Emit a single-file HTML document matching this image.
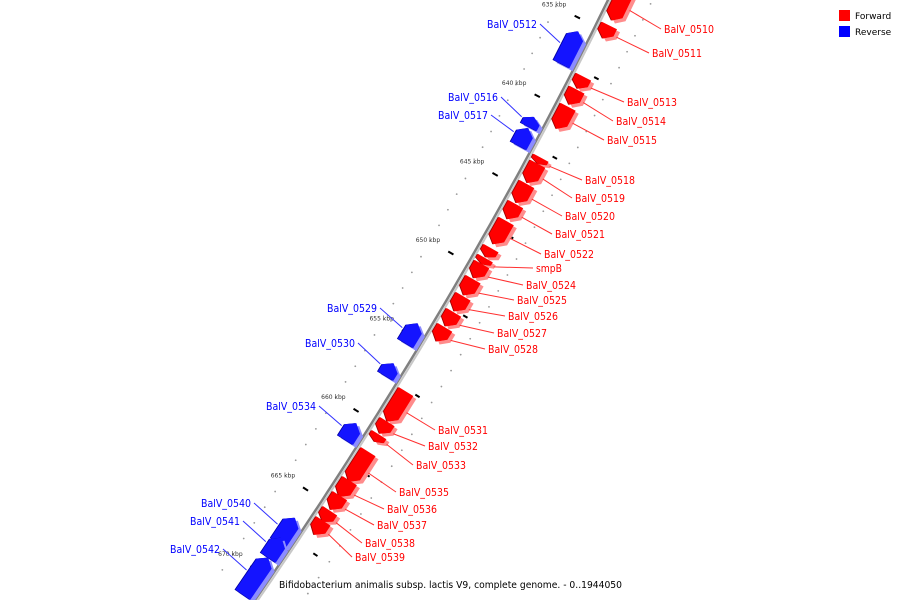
<!DOCTYPE html>
<html><head><meta charset="utf-8"><style>
html,body{margin:0;padding:0;background:#fff;overflow:hidden;width:900px;height:600px;}
svg{display:block;}
text{font-family:"DejaVu Sans","Liberation Sans",sans-serif;}
</style></head><body>
<svg id="map" width="900" height="600" viewBox="0 0 900 600" xmlns="http://www.w3.org/2000/svg">
<g id="ticks"></g>
<path id="backbone2" fill="none" stroke="#c8c8c8" stroke-width="2"></path>
<path id="backbone" fill="none" stroke="#808080" stroke-width="2.5"></path>
<g id="features"></g>
<g id="labels"></g>
<g>
<rect x="839" y="10" width="11" height="11" fill="#ff0000"/>
<text x="855" y="19" font-size="9" fill="#000">Forward</text>
<rect x="839" y="26" width="11" height="11" fill="#0000ff"/>
<text x="855" y="35" font-size="9" fill="#000">Reverse</text>
</g>
<text x="279" y="588" font-size="10" textLength="343" lengthAdjust="spacingAndGlyphs" fill="#000">Bifidobacterium animalis subsp. lactis V9, complete genome. - 0..1944050</text>
</svg>
<script>
// ---- data (kbp) ----
const fwdNames = ["BalV_0510","BalV_0511","BalV_0513","BalV_0514","BalV_0515","BalV_0518","BalV_0519","BalV_0520","BalV_0521","BalV_0522","","smpB","BalV_0524","BalV_0525","BalV_0526","BalV_0527","BalV_0528","BalV_0531","BalV_0532","BalV_0533","BalV_0535","BalV_0536","BalV_0537","BalV_0538","BalV_0539"];
const fwdStart = [632.4,634.62,637.85,638.67,639.75,642.97,643.35,644.62,645.89,646.96,648.67,649.30,649.68,650.63,651.71,652.72,653.67,657.72,659.62,660.44,661.52,663.35,664.30,665.25,665.89];
const fwdEnd   = [634.30,635.44,638.61,639.62,641.14,643.35,644.56,645.82,646.84,648.42,649.24,649.68,650.57,651.65,652.66,653.61,654.56,659.62,660.38,660.89,663.42,664.37,665.19,665.95,666.77];
const revNames = ["BalV_0512","BalV_0516","BalV_0517","BalV_0529","BalV_0530","BalV_0534","BalV_0540","BalV_0541","BalV_0542"];
const revStart = [635.70,641.14,641.84,654.24,656.77,660.57,666.58,667.85,669.11];
const revEnd   = [637.78,641.77,642.97,655.51,657.59,661.65,668.16,669.11,671.46];
const tickLabels = ["635 kbp","640 kbp","645 kbp","650 kbp","655 kbp","660 kbp","665 kbp","670 kbp"];
const tickValues = [635,640,645,650,655,660,665,670];
// ---- layout (label anchor positions, not data) ----
const fwdLabelPos = [[664,29],[652,53],[627,102],[616,121],[607,140],[585,180],[575,198],[565,216],[555,234],[544,254],null,[536,268],[526,285],[517,300],[508,316],[497,333],[488,349],[438,430],[428,446],[416,465],[399,492],[387,509],[377,525],[365,543],[355,557]];
const revLabelPos = [[537,24],[498,97],[488,115],[377,308],[355,343],[316,406],[251,503],[240,521],[220,549]];

const NS="http://www.w3.org/2000/svg";
function yOf(k){return 105+(k-640)*15.8;}
function xb(y){return 608-0.4874*y-0.0001682*y*y;}
function dxb(y){return -0.4874-2*0.0001682*y;}
function pt(k,r){const y=yOf(k),x=xb(y),d=dxb(y),n=Math.hypot(1,d);return [x+r/n, y+(-d)*r/n];}
function mk(tag,attrs,parent){const e=document.createElementNS(NS,tag);for(const a in attrs)e.setAttribute(a,attrs[a]);parent.appendChild(e);return e;}

(function(){let d="";for(let k=631;k<=672.5;k+=0.5){const p=pt(k,0);d+=(d?"L":"M")+p[0].toFixed(1)+","+p[1].toFixed(1);}
document.getElementById('backbone').setAttribute('d',d);
let d2="";for(let k=631;k<=672.5;k+=0.5){const p=pt(k,2.5);d2+=(d2?"L":"M")+p[0].toFixed(1)+","+p[1].toFixed(1);}
document.getElementById('backbone2').setAttribute('d',d2);})();

const tg=document.getElementById('ticks');
for(let k=632;k<=671;k++){
  const a=pt(k,-44), b=pt(k+0.5,40);
  const d1=mk('circle',{cx:a[0],cy:a[1],r:0.9,fill:'#999'},tg);
  
  
  const d2=mk('circle',{cx:b[0],cy:b[1],r:0.9,fill:'#999'},tg);
  
  
}
tickValues.forEach((v,i)=>{
  const a=pt(v,-17),b=pt(v,-23);
  const l=mk('line',{x1:a[0],y1:a[1],x2:b[0],y2:b[1],stroke:'#000','stroke-width':2},tg);
  
  
  const c=pt(v,-30);
  const t=mk('text',{x:c[0]-2,y:c[1]-6,'font-size':6,fill:'#333','text-anchor':'end'},tg);
  
  
  t.textContent=tickLabels[i];
  const e=pt(v+2.6,22),f=pt(v+2.6,27);
  const l2=mk('line',{x1:e[0],y1:e[1],x2:f[0],y2:f[1],stroke:'#000','stroke-width':2},tg);
  
  
});

const fg=document.getElementById('features');
function shape(k1,k2,r1,r2,fwd){
  const len=yOf(k2)-yOf(k1);const head=Math.min(6,len*0.45)/15.8;
  const pts=[];const rm=(r1+r2)/2;
  if(fwd){pts.push(pt(k1,r1),pt(k2-head,r1),pt(k2,rm),pt(k2-head,r2),pt(k1,r2));}
  else{pts.push(pt(k2,r1),pt(k1+head,r1),pt(k1,rm),pt(k1+head,r2),pt(k2,r2));}
  return pts;
}
function poly(pts,dx,dy,fill,name){
  const p=mk('polygon',{points:pts.map(q=>(q[0]+dx).toFixed(1)+","+(q[1]+dy).toFixed(1)).join(" "),fill:fill},fg);
  
  
  return p;
}
const lg=document.getElementById('labels');
function labelLen(nm){return nm.length>5?50:26;}
fwdNames.forEach((nm,i)=>{
  const s=shape(fwdStart[i],fwdEnd[i],4,21,true);
  poly(s,3,3,'#ff8c8c','forward-gene-shadow');
  poly(s,-1,0,'#a00000','forward-gene-edge');
  poly(s,0,0,'#ff0000','forward-gene');
  const lp=fwdLabelPos[i];
  if(lp&&nm){
    const m=pt((fwdStart[i]+fwdEnd[i])/2,24);
    const l=mk('line',{x1:m[0],y1:m[1],x2:lp[0]-3,y2:lp[1],stroke:'#ff3030','stroke-width':1},lg);
    
    
    const t=mk('text',{x:lp[0],y:lp[1]+4,'font-size':11,fill:'#ff0000',textLength:labelLen(nm),lengthAdjust:'spacingAndGlyphs'},lg);
    
    
    t.textContent=nm;
  }
});
revNames.forEach((nm,i)=>{
  const s=shape(revStart[i],revEnd[i],-4,-22,false);
  poly(s,3,3,'#8c8cff','reverse-gene-shadow');
  poly(s,-1,0,'#0000a0','reverse-gene-edge');
  poly(s,0,0,'#1414ff','reverse-gene');
  const lp=revLabelPos[i];
  const m=pt((revStart[i]+revEnd[i])/2,-24);
  const l=mk('line',{x1:m[0],y1:m[1],x2:lp[0]+3,y2:lp[1],stroke:'#3030ff','stroke-width':1},lg);
  
  
  const t=mk('text',{x:lp[0]-labelLen(nm),y:lp[1]+4,'font-size':11,fill:'#0000ff',textLength:labelLen(nm),lengthAdjust:'spacingAndGlyphs'},lg);
  
  
  t.textContent=nm;
});
</script>
</body></html>
